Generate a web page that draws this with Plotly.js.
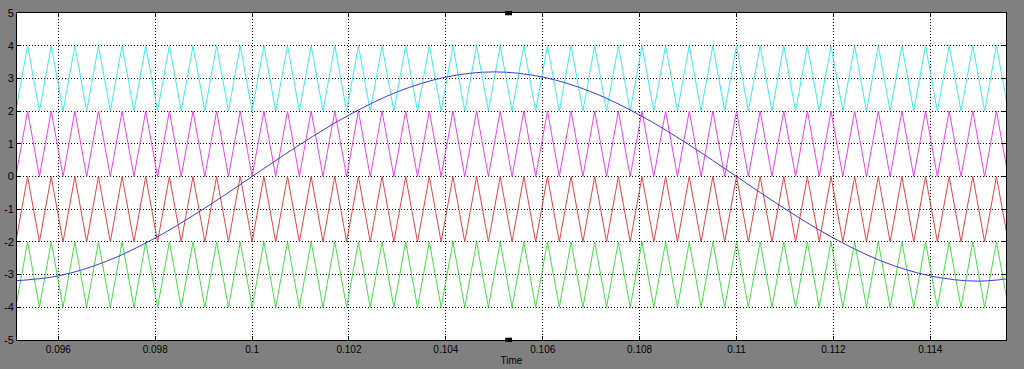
<!DOCTYPE html>
<html>
<head>
<meta charset="utf-8">
<script src="https://cdn.plot.ly/plotly-3.0.1.min.js"></script>
<style>
  html, body { margin: 0; padding: 0; background: #808080; }
  #chart { width: 1024px; height: 369px; }
</style>
</head>
<body>
<div id="chart"></div>
<script>
// Carrier triangle vertex times (s) (peaks/troughs alternate)
const carrierTimes = [
  0.0951220, 0.0953659, 0.0956098, 0.0958537, 0.0960976, 0.0963415, 0.0965854, 0.0968293,
  0.0970732, 0.0973171, 0.0975610, 0.0978049, 0.0980488, 0.0982927, 0.0985366, 0.0987805,
  0.0990244, 0.0992683, 0.0995122, 0.0997561, 0.1000000, 0.1002439, 0.1004878, 0.1007317,
  0.1009756, 0.1012195, 0.1014634, 0.1017073, 0.1019512, 0.1021951, 0.1024390, 0.1026829,
  0.1029268, 0.1031707, 0.1034146, 0.1036585, 0.1039024, 0.1041463, 0.1043902, 0.1046341,
  0.1048780, 0.1051220, 0.1053659, 0.1056098, 0.1058537, 0.1060976, 0.1063415, 0.1065854,
  0.1068293, 0.1070732, 0.1073171, 0.1075610, 0.1078049, 0.1080488, 0.1082927, 0.1085366,
  0.1087805, 0.1090244, 0.1092683, 0.1095122, 0.1097561, 0.1100000, 0.1102439, 0.1104878,
  0.1107317, 0.1109756, 0.1112195, 0.1114634, 0.1117073, 0.1119512, 0.1121951, 0.1124390,
  0.1126829, 0.1129268, 0.1131707, 0.1134146, 0.1136585, 0.1139024, 0.1141463, 0.1143902,
  0.1146341, 0.1148780, 0.1151220, 0.1153659, 0.1156098
];
// Carrier level at each vertex: 0 = trough, 1 = peak (relative position within its 2-unit band)
const carrierShape = [
  0,1,0,1,0,1,0,1, 0,1,0,1,0,1,0,1, 0,1,0,1,0,1,0,1, 0,1,0,1,0,1,0,1,
  0,1,0,1,0,1,0,1, 0,1,0,1,0,1,0,1, 0,1,0,1,0,1,0,1, 0,1,0,1,0,1,0,1,
  0,1,0,1,0,1,0,1, 0,1,0,1,0,1,0,1, 0,1,0,1,0
];
// Carrier bands: lower edge and upper edge
const carrierNames = ['Carrier 1', 'Carrier 2', 'Carrier 3', 'Carrier 4'];
const carrierLow   = [2, 0, -2, -4];
const carrierHigh  = [4, 2, 0, -2];
const carrierColors = ['#3aeeee', '#f040f0', '#e84444', '#44e044'];

// Reference (modulating) wave samples
const refTimes = [0.095, 0.096, 0.097, 0.098, 0.099, 0.100, 0.101, 0.102, 0.103, 0.104, 0.105,
                  0.106, 0.107, 0.108, 0.109, 0.110, 0.111, 0.112, 0.113, 0.114, 0.115, 0.116];
const refValues = [-3.2, -3.04, -2.59, -1.88, -0.99, 0.0, 0.99, 1.88, 2.59, 3.04, 3.2,
                   3.04, 2.59, 1.88, 0.99, 0.0, -0.99, -1.88, -2.59, -3.04, -3.2, -3.04];

// Axis ticks
const xTickVals = [0.096, 0.098, 0.100, 0.102, 0.104, 0.106, 0.108, 0.110, 0.112, 0.114];
const xTickText = ['0.096', '0.098', '0.1', '0.102', '0.104', '0.106', '0.108', '0.11', '0.112', '0.114'];
const yTickVals = [-5, -4, -3, -2, -1, 0, 1, 2, 3, 4, 5];
const yTickText = ['-5', '-4', '-3', '-2', '-1', '0', '1', '2', '3', '4', '5'];

const traces = [];
for (let i = 0; i < carrierNames.length; i++) {
  const lo = carrierLow[i], hi = carrierHigh[i];
  traces.push({
    x: carrierTimes,
    y: carrierShape.map(s => lo + s * (hi - lo)),
    type: 'scatter', mode: 'lines', name: carrierNames[i],
    line: { color: carrierColors[i], width: 1 }
  });
}
traces.push({
  x: refTimes, y: refValues, type: 'scatter', mode: 'lines', name: 'Reference',
  line: { color: '#3c3cdc', width: 1, shape: 'spline', smoothing: 1.0 }
});

const layout = {
  width: 1024, height: 369,
  paper_bgcolor: '#808080',
  plot_bgcolor: '#ffffff',
  margin: { l: 17, r: 18, t: 13, b: 29 },
  showlegend: false,
  font: { family: 'Liberation Sans, Arial, sans-serif', size: 10, color: '#000000' },
  xaxis: {
    range: [0.095147, 0.115563],
    tickvals: xTickVals, ticktext: xTickText,
    showgrid: true, gridcolor: '#000000', gridwidth: 1, griddash: '1px,2px',
    zeroline: false,
    showline: true, linecolor: '#000000', linewidth: 1, mirror: 'ticks',
    ticks: 'inside', ticklen: 4, tickcolor: '#000000',
    tickfont: { size: 10, color: '#000000' },
    title: { text: 'Time', font: { size: 10, color: '#000000' }, standoff: 2 }
  },
  yaxis: {
    range: [-5, 5],
    tickvals: yTickVals, ticktext: yTickText,
    showgrid: true, gridcolor: '#000000', gridwidth: 1, griddash: '1px,2px',
    zeroline: false,
    showline: true, linecolor: '#000000', linewidth: 1, mirror: 'ticks',
    ticks: 'inside', ticklen: 4, tickcolor: '#000000',
    tickfont: { size: 11, color: '#000000' }
  },
  shapes: [
    { type: 'rect', xref: 'paper', yref: 'paper', x0: 0.4935, x1: 0.5005, y0: 0.993, y1: 1.006,
      fillcolor: '#000000', line: { width: 0 } },
    { type: 'rect', xref: 'paper', yref: 'paper', x0: 0.4935, x1: 0.5005, y0: -0.006, y1: 0.007,
      fillcolor: '#000000', line: { width: 0 } }
  ]
};

Plotly.newPlot('chart', traces, layout, { staticPlot: true, displayModeBar: false });
</script>
</body>
</html>
